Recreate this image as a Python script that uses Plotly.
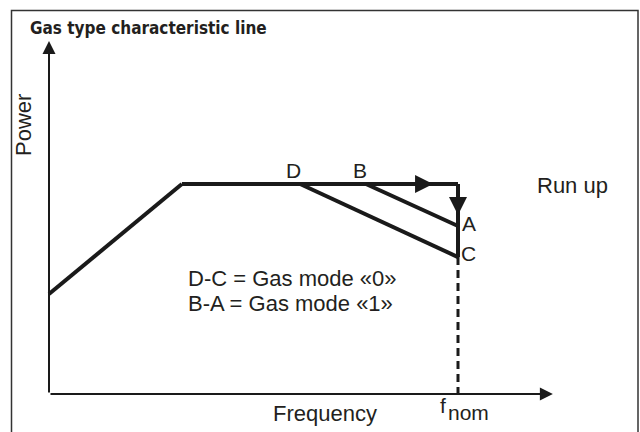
import plotly.graph_objects as go

# ---- data (arbitrary units: frequency 0..f_nom=100, power plateau=100) ----
ramp_freq = [0, 32.5]
ramp_power = [47.6, 100]
plateau_freq = [32.5, 100]
plateau_power = [100, 100]
drop_freq = [100, 100]
drop_power = [100, 65.2]
dc_freq = [61.4, 100]
dc_power = [100, 65.2]
ba_freq = [77.5, 100]
ba_power = [100, 80.0]
fnom_dash_freq = [100, 100]
fnom_dash_power = [65.2, -2.0]
axis_x_end = 123.2
axis_y_end = 168.1

point_labels = ["D", "B", "A", "C"]
point_label_freq = [59.7, 76.0, 102.6, 102.6]
point_label_power = [106.2, 106.2, 81.0, 66.7]

title_text = "Gas type characteristic line"
x_label = "Frequency"
y_label = "Power"
fnom_main = "f"
fnom_sub = "nom"
runup_label = "Run up"
mode_labels = ["D-C = Gas mode «0»", "B-A = Gas mode «1»"]

# ---- pixel mapping of the figure (plot area spans whole figure) ----
W, H = 640, 432
X0, Y0 = 49, 394          # pixel of origin
SX, SY = 4.09, 2.1        # pixels per unit
xr = [-X0 / SX, (W - X0) / SX]
yr = [-(H - Y0) / SY, Y0 / SY]

INK = "#1a1a1a"
TXT = "#231f20"
BODY = "Liberation Sans, Arial, sans-serif"

fig = go.Figure()

def line(xs, ys, width=4, dash="solid"):
    fig.add_trace(go.Scatter(x=xs, y=ys, mode="lines",
                             line=dict(color=INK, width=width, dash=dash),
                             hoverinfo="skip", showlegend=False))

line(ramp_freq, ramp_power)
line(plateau_freq, plateau_power)
line(drop_freq, drop_power)
line(dc_freq, dc_power)
line(ba_freq, ba_power)
line(fnom_dash_freq, fnom_dash_power, width=3, dash="8px,5px")

# axes with arrows
for (x, y) in [(axis_x_end, 0), (0, axis_y_end)]:
    fig.add_annotation(x=x, y=y, ax=0, ay=0, xref="x", yref="y", axref="x", ayref="y",
                       text="", showarrow=True, arrowhead=2, arrowsize=1.3,
                       arrowwidth=2, arrowcolor=INK)

# direction arrows on the run-up path
fig.add_annotation(x=93.9, y=100, ax=85, ay=100, xref="x", yref="y", axref="x", ayref="y",
                   text="", showarrow=True, arrowhead=2, arrowsize=0.9,
                   arrowwidth=4, arrowcolor=INK)
fig.add_annotation(x=100, y=85.2, ax=100, ay=93, xref="x", yref="y", axref="x", ayref="y",
                   text="", showarrow=True, arrowhead=2, arrowsize=0.9,
                   arrowwidth=4, arrowcolor=INK)

def label(x, y, text, size=22, **kw):
    fig.add_annotation(x=x, y=y, xref="x", yref="y", text=text, showarrow=False,
                       font=dict(family=BODY, size=size, color=TXT), **kw)

for t, fx, py in zip(point_labels, point_label_freq, point_label_power):
    label(fx, py, t, size=21)

label(128.0, 99.5, runup_label)
label(33.5, 54.8, mode_labels[0], xanchor="left")
label(33.5, 42.9, mode_labels[1], xanchor="left")
label(67.6, -9.5, x_label)
label(96.4, -5.7, fnom_main, size=21)
label(97.1, -8.6, fnom_sub, size=21, xanchor="left")
label(-6.4, 128.0, y_label, textangle=-90)

fig.add_annotation(x=-5.1, y=174.3, xref="x", yref="y", text="<b>" + title_text + "</b>",
                   showarrow=False, xanchor="left",
                   font=dict(family="Liberation Sans Narrow, DejaVu Sans Condensed, sans-serif",
                             size=17, color=TXT))

# outer frame
fig.add_shape(type="rect", xref="paper", yref="paper",
              x0=11.5 / W, x1=638 / W, y0=-0.02, y1=1 - 10.5 / H,
              line=dict(color="#333333", width=1.5))

fig.update_xaxes(range=xr, visible=False, fixedrange=True)
fig.update_yaxes(range=yr, visible=False, fixedrange=True)
fig.update_layout(width=W, height=H, autosize=False,
                  margin=dict(l=0, r=0, t=0, b=0),
                  paper_bgcolor="white", plot_bgcolor="white")

fig.write_html("out.html", config={"displayModeBar": False},
               post_script="document.body.style.margin='0';document.body.style.overflow='hidden';")
